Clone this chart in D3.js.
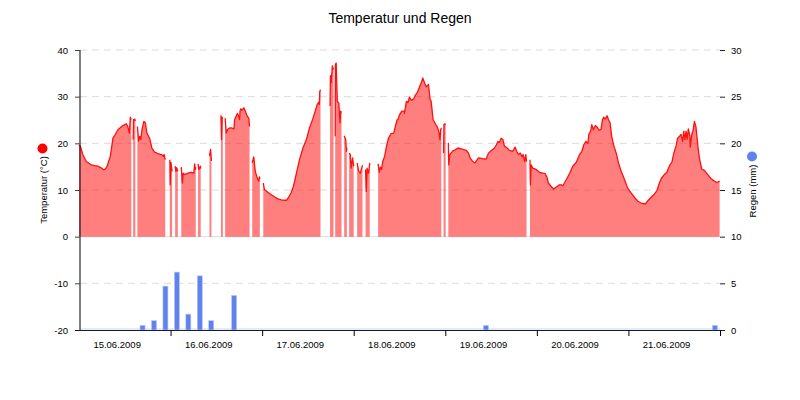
<!DOCTYPE html>
<html><head><meta charset="utf-8">
<script src="https://cdn.jsdelivr.net/npm/d3@7"></script>
<style>
body{margin:0;background:#fff;}
text{font-family:"Liberation Sans",Arial,sans-serif;}
</style></head>
<body><svg id="chart" width="800" height="400"></svg>
<script>
// ---- data ----
const startDate = new Date(2009, 5, 15, 0, 0);
const dayLabels = ["15.06.2009","16.06.2009","17.06.2009","18.06.2009","19.06.2009","20.06.2009","21.06.2009"];
const tempTicks = [-20,-10,0,10,20,30,40];
const rainTicks = [0,5,10,15,20,25,30];
// hours since 15.06.2009 00:00 ; null = gap
const tempHours = [
 0,0.4,1.0,1.9,3.2,4.2,5.0,5.9,6.5,7.0,7.4,8.2,8.9,9.5,10.2,11.5,12.4,12.8,13.2,13.45,13.7,null,
 14.2,14.3,14.6,14.76,null,
 15.3,15.46,15.6,15.9,16.2,16.5,17.0,17.4,17.8,18.5,19.1,19.8,20.7,21.6,22.1,22.3,22.6,null,
 23.8,23.9,24.1,24.4,null,
 25.2,25.4,25.6,25.9,null,
 26.8,27.1,27.3,27.7,28.6,29.4,30.1,30.3,30.5,30.6,null,
 31.2,31.4,31.8,31.9,null,
 34.2,34.5,34.7,null,
 37.2,37.35,37.5,37.7,null,
 38.3,38.6,39.0,39.5,39.9,40.6,40.8,41.5,41.7,42.1,42.2,42.4,42.7,43.2,43.6,44.1,44.5,44.7,null,
 45.4,45.8,46.2,46.6,47.1,47.3,47.4,null,
 48.3,48.6,49.5,50.4,51.3,52.1,53.0,53.9,54.4,54.9,55.6,56.2,56.9,57.8,58.7,59.6,60.4,61.3,61.9,62.4,62.8,63.0,63.1,63.3,null,
 65.8,65.9,66.1,66.4,66.7,null,
 67.15,67.2,67.4,67.7,68.1,68.4,68.6,68.8,null,
 69.5,69.9,70.1,70.2,null,
 70.8,71.1,71.3,71.7,72.0,null,
 72.9,73.3,73.7,74.1,74.3,null,
 75.1,75.3,75.5,75.9,76.2,null,
 78.4,78.7,79.0,79.3,79.6,80.1,80.5,81.1,81.8,82.5,82.9,83.4,83.6,84.0,84.6,85.2,85.3,85.8,86.2,86.6,87.1,87.7,88.2,88.6,89.3,89.7,90.1,90.6,91.0,91.6,92.0,92.3,92.8,93.4,93.9,94.3,94.6,94.8,94.95,null,
 95.55,95.65,95.9,96.1,null,
 96.8,96.9,97.2,97.5,98.0,98.6,99.3,100.2,101.5,102.1,102.5,103.2,103.8,104.2,104.7,105.8,106.7,107.3,108.0,108.9,109.4,109.8,110.2,110.6,111.1,111.5,112.2,112.8,113.7,114.3,114.7,115.2,115.7,116.1,116.4,116.8,117.1,117.3,null,
 118.2,118.3,118.5,118.9,119.8,120.7,121.6,122.2,122.7,123.0,123.7,124.4,125.0,125.9,126.4,126.8,127.7,128.6,129.4,130.3,131.2,131.8,132.3,132.9,133.4,133.6,134.1,134.4,134.8,135.3,135.8,136.3,136.8,137.2,137.5,137.9,138.4,138.8,139.2,139.6,140.2,140.8,141.4,142.1,143.0,143.8,144.7,145.6,146.5,147.3,148.4,149.1,149.9,150.8,151.5,152.1,152.7,153.4,154.1,154.7,155.4,155.9,156.5,156.9,157.4,157.8,158.2,158.5,158.8,159.1,159.4,159.7,160.1,160.2,160.6,160.9,161.3,161.7,162.2,162.6,163.2,163.9,164.8,165.7,166.5,167.2,167.9
];
const tempValues = [
 19.6,19.3,17.6,16.1,15.4,15.2,15.1,14.7,14.3,14.6,15.2,17.2,21.1,21.9,22.9,23.8,24.2,23.6,22.2,25.6,25.1,null,
 20.8,25.1,25.2,24.8,null,
 23.6,22.2,20.5,21.5,20.8,22.9,24.7,24.4,22.2,21.1,19.0,18.1,17.8,17.6,17.2,17.6,16.5,null,
 16.5,11.1,15.9,14.0,null,
 15.1,14.0,14.8,14.0,null,
 14.9,11.5,13.6,13.3,13.6,13.8,13.6,15.6,14.4,14.9,null,
 15.6,14.4,15.1,14.6,null,
 17.3,18.7,16.2,null,
 26.0,20.8,25.6,25.3,null,
 25.4,22.2,23.0,23.3,23.3,23.1,25.1,26.4,26.1,25.1,26.9,27.4,27.1,27.6,26.9,25.8,25.4,23.6,null,
 15.8,17.1,14.0,12.9,11.9,12.8,12.4,null,
 11.5,10.1,9.5,9.0,8.5,8.1,7.9,7.8,7.8,8.4,9.4,10.8,13.3,16.5,19.0,20.8,23.3,25.3,26.9,28.3,28.8,28.3,31.1,31.5,null,
 28.0,34.5,33.0,36.6,35.8,null,
 21.5,36.9,37.2,29.0,28.6,24.4,26.9,26.6,null,
 21.6,20.8,18.3,19.0,null,
 17.9,17.6,14.7,16.9,15.1,null,
 15.8,14.0,13.6,14.7,15.3,null,
 14.4,9.7,14.7,13.6,15.8,null,
 15.6,13.8,14.9,14.4,16.1,17.2,19.0,21.1,22.1,22.2,23.6,25.1,25.1,26.1,26.9,26.9,26.4,29.0,28.7,29.9,29.2,29.5,30.4,30.8,32.2,32.9,34.0,32.9,32.1,32.6,29.5,29.0,25.1,24.2,23.5,22.6,20.8,22.9,23.3,null,
 17.9,24.0,24.2,24.0,null,
 20.1,15.4,17.6,17.9,18.4,18.6,19.0,18.8,18.5,17.9,16.9,16.1,15.8,16.3,16.9,16.7,16.6,17.9,18.4,19.0,19.7,20.4,20.2,21.1,20.8,19.4,19.0,18.5,18.3,19.2,18.3,17.6,17.9,17.1,17.6,16.1,17.6,16.1,null,
 16.5,11.1,15.4,14.7,14.4,13.8,13.6,13.5,12.6,11.5,10.8,10.2,10.6,11.1,11.1,10.9,12.2,13.6,15.1,15.9,17.6,18.3,19.7,20.4,20.0,21.9,22.6,24.0,22.9,23.8,23.5,22.8,23.0,25.1,25.6,25.2,25.9,25.0,24.4,21.5,19.4,17.9,15.8,14.0,12.2,10.4,9.4,8.4,7.6,7.2,7.0,7.7,8.4,9.1,9.9,11.5,12.6,13.3,13.8,15.1,16.0,17.9,19.5,21.1,21.5,21.9,20.4,22.6,20.8,22.6,20.9,23.1,21.6,19.2,21.9,22.6,24.7,23.5,19.4,16.9,14.5,14.2,13.3,12.4,11.9,11.6,11.9
];
const rainHours = [16,19,22,25,28,31,34,40,106,166];
const rainValues = [0.5,1.0,4.7,6.2,1.7,5.8,1.0,3.7,0.5,0.5];

// ---- build ----
const svg = d3.select("#chart");
const toDate = h => h === null ? null : d3.timeMinute.offset(startDate, Math.round(h*60));
const temps = tempHours.map((h,i)=>({t:toDate(h), v:tempValues[i]}));
const rain = rainHours.map((h,i)=>({t:toDate(h), v:rainValues[i]}));

const x = d3.scaleTime().domain([startDate, d3.timeDay.offset(startDate,7)]).range([79,720]);
const yT = d3.scaleLinear().domain([-20,40]).range([330,50]);
const yR = d3.scaleLinear().domain([0,30]).range([330,50]);

// grid
const grid = svg.append("g");
tempTicks.filter(v=>v!==-20).forEach(v=>{
  grid.append("line").attr("x1",80).attr("x2",720).attr("y1",yT(v)).attr("y2",yT(v))
   .attr("stroke","#dcdcdc").attr("stroke-width",1)
   .attr("stroke-dasharray", v===0 ? null : "7,5");
});

// area + line
const def = d => d.t!==null && d.v!==null;
const area = d3.area().defined(def).x(d=>x(d.t)).y0(yT(0)).y1(d=>yT(d.v));
const line = d3.line().defined(def).x(d=>x(d.t)).y(d=>yT(d.v));
svg.append("path").datum(temps).attr("d",area).attr("fill","#ff0000").attr("fill-opacity",0.5);
svg.append("path").datum(temps).attr("d",line).attr("fill","none").attr("stroke","#ff1010").attr("stroke-width",1.3).attr("stroke-linejoin","round");

// rain bars
svg.append("line").attr("x1",80).attr("x2",720).attr("y1",329).attr("y2",329).attr("stroke","#c9d5f8").attr("stroke-width",1);
svg.append("g").selectAll("rect").data(rain).join("rect")
  .attr("x",d=>x(d.t)).attr("width",5)
  .attr("y",d=>yR(d.v)).attr("height",d=>yR(0)-yR(d.v))
  .attr("fill","#5f82ee").attr("stroke","#b9c8f6").attr("stroke-width",0.6);

const plain = d => String(d);

// left axis
const gL = svg.append("g").attr("transform","translate(80,0)")
  .call(d3.axisLeft(yT).tickValues(tempTicks).tickFormat(plain).tickSize(5).tickPadding(7));
gL.select(".domain").attr("stroke","#000").attr("d","M0,50V330");
gL.selectAll(".tick line").attr("stroke","#444");
gL.selectAll(".tick text").attr("font-size","9.5px").attr("fill","#000").attr("font-family","'Liberation Sans',Arial,sans-serif");

// right axis
const gR = svg.append("g").attr("transform","translate(720,0)")
  .call(d3.axisRight(yR).tickValues(rainTicks).tickFormat(plain).tickSize(5).tickPadding(6));
gR.select(".domain").remove();
gR.selectAll(".tick line").attr("stroke","#222");
gR.selectAll(".tick text").attr("font-size","9.5px").attr("fill","#000").attr("font-family","'Liberation Sans',Arial,sans-serif");

// bottom axis
const dayTicks = d3.range(1,8).map(i=>d3.timeDay.offset(startDate,i));
const gB = svg.append("g").attr("transform","translate(0,330)")
  .call(d3.axisBottom(x).tickValues(dayTicks).tickSize(6).tickFormat(""));
gB.select(".domain").attr("stroke","#1a1a33").attr("d","M75,0.5H720");
gB.selectAll(".tick line").attr("stroke","#000");
svg.append("g").selectAll("text").data(dayLabels).join("text")
  .attr("x",(d,i)=>x(d3.timeHour.offset(d3.timeDay.offset(startDate,i),10.5)))
  .attr("y",347.5).attr("text-anchor","middle").attr("font-size","9.5px").attr("fill","#000")
  .text(d=>d);

// titles
svg.append("text").attr("x",400).attr("y",23).attr("text-anchor","middle")
  .attr("font-size","14px").attr("fill","#000").text("Temperatur und Regen");
svg.append("text").attr("transform","translate(46.5,190) rotate(-90)").attr("text-anchor","middle")
  .attr("font-size","9.5px").attr("fill","#000").text("Temperatur (°C)");
svg.append("circle").attr("cx",42.5).attr("cy",148.5).attr("r",5).attr("fill","#ff0000");
svg.append("text").attr("transform","translate(756,191) rotate(-90)").attr("text-anchor","middle")
  .attr("font-size","9.5px").attr("fill","#000").text("Regen (mm)");
svg.append("circle").attr("cx",752).attr("cy",156.5).attr("r",5).attr("fill","#5f82ee");
</script></body></html>
